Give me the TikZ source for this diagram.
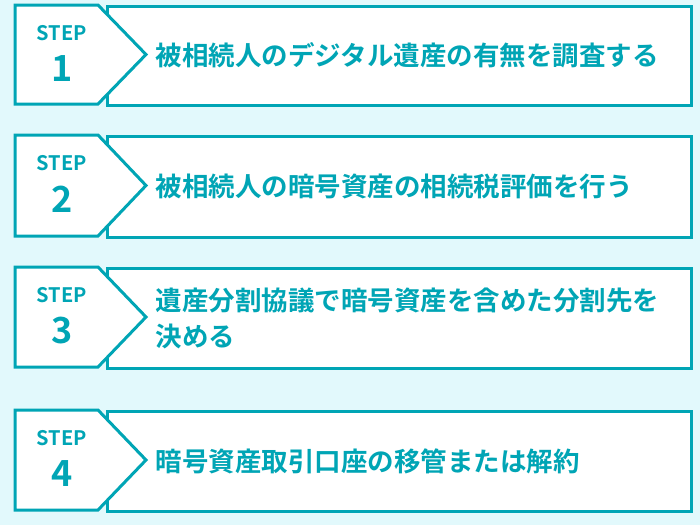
\documentclass[tikz,border=0pt]{standalone}
\usepackage{fontspec}
\newfontfamily\cjk{Noto Sans CJK JP Bold}
\definecolor{teal1}{HTML}{00A5B5}
\definecolor{bg}{HTML}{E2F9FC}
\begin{document}
\begin{tikzpicture}[x=1pt,y=-1pt,
  box/.style={draw=teal1,line width=3pt,fill=white},
  txt/.style={anchor=west,font=\cjk\fontsize{26.5}{36}\selectfont,text=teal1,align=left},
  stp/.style={font=\cjk\fontsize{20}{20}\selectfont,text=teal1},
  num/.style={font=\cjk\fontsize{36}{36}\selectfont,text=teal1}]
\fill[bg] (0,0) rectangle (700,525);
\useasboundingbox (0,0) rectangle (700,525);
\foreach \t/\b/\n/\lab [count=\i] in {5/104/1/{被相続人のデジタル遺産の有無を調査する},135/236/2/{被相続人の暗号資産の相続税評価を行う},267/367/3/{遺産分割協議で暗号資産を含めた分割先を\\決める},410/510/4/{暗号資産取引口座の移管または解約}}{
  \pgfmathsetmacro{\m}{(\t+\b)/2}
  \node[box,minimum width=584pt,minimum height={\b-\t},anchor=north west,inner sep=0pt] (r\i) at (106,\t) {};
  \draw[box] (15,\t) -- (98,\t) -- (146,\m) -- (98,\b) -- (15,\b) -- cycle;
  \node[stp] (s\i) at (62,\t+28) {STEP};
  \node[num] (n\i) at (62,\m+14) {\n};
  \node[txt] (t\i) at (152,\m+1) {\lab};
}
\end{tikzpicture}
\end{document}
